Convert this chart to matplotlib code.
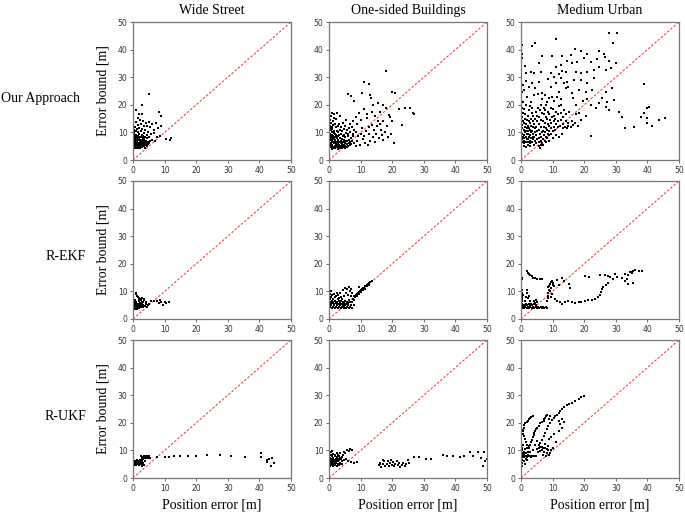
import numpy as np
import matplotlib
matplotlib.use("Agg")
import matplotlib.pyplot as plt

col_titles = ["Wide Street", "One-sided Buildings", "Medium Urban"]
row_titles = ["Our Approach", "R-EKF", "R-UKF"]
x_label = "Position error [m]"
y_label = "Error bound [m]"
ticks = [0, 10, 20, 30, 40, 50]

# (position error, error bound) pairs
wide_ours = [(5.2,24),(2.7,20.1),(1.0,18),(2.0,16.8),(3.0,16.5),(8.3,17.3),(8.8,15.8),(1.5,15.2),(2.2,14.5),(3.2,14.0),(4.0,13.5),(5.0,13.8),(6.0,13.0),(7.2,13.4),(9.0,12.2),(8.0,11.5),(6.5,11.0),(5.5,11.8),(4.5,12.2),(3.5,12.5),(2.5,13.0),(1.5,12.8),(0.5,12.0),(0.8,13.8),(4.8,10.2),(5.8,9.5),(6.8,9.8),(7.5,8.2),(8.5,8.8),(10.5,7.6),(11.8,7.3),(12.0,7.8),(7.0,6.8),(6.0,7.2),(5.0,6.0),(4.5,5.2),(3.8,4.5),(3.0,5.0),
    (0.2,4.5),(0.3,5.5),(0.4,6.2),(0.2,7.0),(0.5,7.8),(0.3,8.5),(0.6,9.2),(0.4,10.0),(0.2,11.0),(0.7,5.0),(0.8,6.0),(0.9,6.8),(1.0,7.5),(0.8,8.2),(1.1,9.0),(1.0,4.2),(1.2,5.2),(1.3,5.8),(1.4,6.5),(1.5,7.2),(1.3,8.0),(1.6,8.8),(1.5,10.2),(1.8,4.8),(1.9,5.5),(2.0,6.2),(2.1,7.0),(1.9,7.8),(2.2,8.5),(2.0,9.5),(2.3,4.2),(2.5,5.0),(2.4,5.8),(2.6,6.6),(2.7,7.4),(2.5,8.2),(2.8,9.0),(2.6,10.5),(3.0,4.6),(3.1,5.4),(3.2,6.2),(3.0,7.0),(3.3,7.8),(3.1,8.6),(3.4,9.8),(3.6,5.0),(3.7,5.8),(3.8,6.6),(3.5,7.5),(3.9,8.4),(4.1,5.4),(4.2,6.2),(4.0,7.0),(4.3,9.0),(4.6,5.8),(4.8,6.6),(4.5,7.8),(5.2,6.4),(5.0,8.5),(5.5,7.0),(0.1,6.6),(0.6,7.3),(1.2,6.9),(1.7,6.3),(2.3,6.0),(0.5,5.8),(1.1,5.5),(0.9,7.1),(1.6,7.6),(2.2,7.3),(0.3,9.6),(0.9,10.5),(1.4,11.2),(2.0,11.5),(2.9,11.2),(3.8,10.8),(0.7,4.6),(1.5,4.4),(2.8,5.8),(3.4,6.9)]

onesided_ours = [(0.1,4.2),(0.2,5.0),(0.3,5.8),(0.1,6.5),(0.4,7.2),(0.2,8.0),(0.5,8.8),(0.3,9.6),(0.1,10.5),(0.4,11.5),(0.2,12.5),(0.5,13.5),(0.3,14.5),(0.6,15.8),(0.7,4.6),(0.8,5.4),(0.6,6.2),(0.9,7.0),(0.7,7.8),(0.8,9.2),(0.9,10.2),(0.6,11.0),(0.8,12.0),(0.9,17.0),
    (1.0,4.0),(1.2,4.8),(1.1,5.6),(1.3,6.4),(1.0,7.2),(1.4,8.0),(1.2,8.8),(1.5,9.8),(1.1,11.2),(1.4,12.8),(1.3,14.0),(1.5,16.5),(1.6,4.4),(1.8,5.2),(1.7,6.0),(1.9,6.8),(1.6,7.6),(1.8,8.4),(1.9,9.4),(1.7,10.6),(1.8,13.2),(1.6,15.2),
    (2.0,4.2),(2.2,5.0),(2.1,5.8),(2.3,6.6),(2.0,7.4),(2.4,8.2),(2.2,9.0),(2.5,10.4),(2.1,11.8),(2.3,14.8),(2.6,4.6),(2.8,5.4),(2.7,6.2),(2.9,7.0),(2.6,7.8),(2.8,8.8),(2.9,10.0),(2.7,12.2),(2.5,17.2),
    (3.0,4.0),(3.2,4.8),(3.1,5.6),(3.3,6.4),(3.0,7.2),(3.4,8.0),(3.2,9.2),(3.5,11.0),(3.3,13.0),(3.6,4.4),(3.8,5.2),(3.7,6.0),(3.9,6.8),(3.6,7.8),(3.8,9.6),(3.9,12.0),(3.5,16.0),
    (4.0,4.2),(4.2,5.0),(4.1,5.8),(4.3,6.6),(4.0,7.6),(4.4,8.6),(4.2,10.4),(4.5,13.5),(4.6,4.6),(4.8,5.4),(4.7,6.4),(4.9,7.4),(4.6,9.0),(4.8,11.2),
    (5.0,4.4),(5.2,5.2),(5.1,6.2),(5.3,7.0),(5.0,8.2),(5.4,9.8),(5.2,12.4),(5.6,4.8),(5.8,5.8),(5.7,6.8),(5.9,8.6),(5.6,10.8),(5.5,14.6),
    (6.0,5.0),(6.2,6.0),(6.4,7.4),(6.1,9.4),(6.3,11.6),(6.6,5.4),(6.8,6.4),(6.9,8.0),(6.7,10.2),(6.5,13.2),(7.0,5.8),(7.3,7.0),(7.5,8.8),(7.2,12.0),(7.8,6.2),(7.6,9.6),(7.9,11.0),(7.7,14.2),
    (18.0,32.2),(11.0,28.3),(12.5,27.5),(13.0,23.6),(13.2,22.6),(6.0,24.0),(7.0,23.2),(8.0,21.4),(10.5,24.2),(20.0,24.6),(21.0,24.2),(14.0,20.0),(15.5,20.6),(17.0,20.0),(18.0,19.0),(19.0,16.2),(19.2,15.4),(22.0,18.4),(24.0,18.8),(25.5,19.0),(26.5,17.0),(26.8,16.8),(23.0,12.6),(20.0,14.0),(20.5,6.0),(17.0,7.4),(15.0,9.6),(16.5,11.0),(18.5,12.2),(17.0,14.0),(12.0,15.2),(10.0,14.4),(9.0,13.2),(8.5,15.6),(9.5,17.2),(11.0,18.6),(12.0,16.8),(13.5,17.5),(14.5,15.8),(15.5,14.2),(16.0,17.5),(8.5,10.0),(9.2,8.6),(10.0,9.4),(10.8,7.6),(11.5,6.2),(12.2,5.4),(13.0,7.0),(13.8,8.2),(14.5,6.5),(15.8,7.8),(16.8,9.2),(17.8,10.0),(18.8,8.4),(19.5,9.6),(10.5,11.6),(11.8,10.6),(12.8,11.8),(13.6,12.8),(14.2,10.8),(15.2,12.2),(16.2,13.0),(9.0,6.8),(8.6,5.0),(9.8,5.6),(11.2,8.8),(12.5,9.4)]

urban_ours = [(27.8,46.1),(30.3,46.1),(29.2,42.5),(11.2,44.0),(4.4,42.3),(3.6,41.4),(0.4,41.7),(0.2,38.3),(0.4,36.8),(6.8,37.7),(9.9,37.8),(13.1,37.7),(15.7,38.0),(17.1,40.1),(18.9,39.6),(20.8,38.4),(24.7,39.5),(26.3,38.3),(26.6,37.4),(24.2,36.5),(22.1,35.6),(20.0,36.8),(17.8,35.6),(16.2,35.0),(14.7,36.0),(12.6,34.4),(11.0,33.8),(27.8,35.9),(28.4,33.2),(30.0,35.0),(27.0,32.6),(24.7,33.8),(23.1,32.6),(21.0,32.0),(18.9,31.4),(17.3,32.0),(14.1,32.0),(13.1,32.4),(1.3,34.0),(3.1,32.0),(4.1,31.6),(5.7,35.0),(6.2,32.0),(1.5,31.6),(5.7,28.4),(1.0,25.4),(2.0,23.0),(4.1,23.6),(6.8,24.2),(9.4,26.6),(11.0,27.8),(12.6,29.6),(14.7,28.4),(16.8,29.0),(19.0,29.0),(21.0,27.8),(23.1,29.6),(18.4,25.4),(20.5,24.8),(16.2,24.2),(14.1,26.0),(12.0,24.8),(9.9,23.0),(8.3,21.1),(25.7,22.3),(27.3,21.1),(28.9,26.0),(29.4,21.7),(26.8,24.8),(39.0,27.4),(31.0,17.5),(32.1,15.7),(33.0,11.5),(35.8,12.1),(37.9,15.7),(39.0,16.9),(39.8,18.7),(40.5,19.1),(40.0,15.1),(40.0,13.3),(41.6,12.3),(43.7,14.5),(45.5,15.1),(22.3,8.7),(27.8,18.1),(26.8,19.3),(23.6,18.7),(22.1,19.9),(24.7,20.5),
    (0.1,5.5),(0.3,6.5),(0.2,7.5),(0.5,8.5),(0.3,9.5),(0.1,10.5),(0.4,11.5),(0.2,12.8),(0.5,14.0),(0.3,15.5),(0.6,17.0),(0.2,19.0),(0.5,21.0),(0.3,24.5),(0.8,5.0),(1.0,6.0),(0.9,7.0),(1.1,8.0),(0.8,9.0),(1.2,10.0),(1.0,11.0),(1.3,12.0),(0.9,13.5),(1.2,15.0),(1.4,16.5),(1.1,18.5),(1.5,20.0),(1.6,6.5),(1.8,7.5),(1.7,8.5),(1.9,9.5),(1.6,10.5),(1.8,11.5),(1.7,13.0),(1.9,14.5),(1.5,4.8),
    (2.1,5.5),(2.3,6.5),(2.2,7.5),(2.5,8.5),(2.3,9.5),(2.1,10.5),(2.4,11.5),(2.2,12.5),(2.6,14.0),(2.3,16.0),(2.5,18.0),(2.7,19.5),(2.8,5.0),(3.0,6.0),(2.9,7.0),(3.1,8.0),(2.8,9.0),(3.2,10.0),(3.0,11.0),(3.3,12.5),(2.9,13.5),(3.2,15.0),(3.4,17.0),(3.1,21.0),(3.6,6.5),(3.8,7.5),(3.7,8.5),(3.9,9.5),(3.6,10.5),(3.8,12.0),(3.7,14.0),(3.9,16.0),(3.5,19.0),
    (4.1,5.5),(4.3,7.0),(4.2,8.5),(4.5,10.0),(4.3,11.5),(4.1,13.0),(4.4,15.0),(4.6,17.5),(4.8,6.0),(5.0,7.5),(4.9,9.0),(5.1,10.5),(4.8,12.0),(5.2,14.0),(5.0,16.0),(5.3,19.0),(5.6,5.0),(5.8,6.5),(5.7,8.0),(5.9,9.5),(5.6,11.0),(5.8,13.0),(5.7,15.5),(5.9,18.0),(6.2,5.5),(6.4,7.0),(6.3,8.5),(6.5,10.0),(6.2,12.0),(6.4,14.5),(6.6,17.0),(6.3,20.0),(6.8,6.0),
    (7.0,7.5),(7.2,9.0),(7.1,10.5),(7.3,12.0),(7.0,14.0),(7.2,16.5),(7.4,19.0),(7.6,7.0),(7.8,8.5),(7.7,10.0),(7.9,11.5),(7.6,13.5),(7.8,15.5),(7.7,18.0),(8.2,8.0),(8.4,9.5),(8.3,11.0),(8.5,13.0),(8.2,15.0),(8.6,17.5),(8.8,9.0),(9.0,10.5),(8.9,12.5),(9.1,14.5),(8.8,16.5),(9.4,9.5),(9.6,11.5),(9.5,13.5),(9.7,15.5),(9.4,19.0),
    (10.2,10.5),(10.4,12.0),(10.3,14.0),(10.5,16.0),(10.2,18.5),(10.8,11.0),(11.0,13.0),(10.9,15.0),(11.2,17.5),(11.6,12.0),(11.8,14.0),(11.7,16.5),(11.9,19.5),(12.4,12.5),(12.6,14.5),(12.5,17.0),(12.7,20.0),(13.2,13.0),(13.4,11.5),(13.3,15.5),(13.6,18.0),(14.0,12.0),(14.2,14.0),(14.1,16.5),(14.5,11.5),(14.8,13.5),(15.0,12.5),(15.2,17.5),(15.8,11.8),(16.2,14.0),(16.5,12.8),(17.0,13.5),(12.0,8.5),(11.0,9.0),(10.0,8.0),(9.0,7.0),(8.0,6.5),(7.0,5.5),(6.0,4.5),(13.0,9.5),(12.8,22.0),(11.5,23.0),(10.5,21.5),(9.0,22.5),(8.0,20.0),(7.5,23.5),(6.5,22.0),(5.5,24.0),(4.5,26.0),(3.5,28.0),(2.5,26.5),(1.5,28.5),(0.5,27.0),(8.5,29.5),(9.5,31.5),(10.5,30.0),(12.0,31.0),(13.5,28.0),(15.0,26.5),(16.5,22.5),(17.5,20.0),(18.5,17.0),(19.5,21.5),(21.0,22.0),(22.5,25.5),(19.0,14.5),(20.5,16.0),(17.5,16.5),(18.0,12.5)]

wide_ekf = [(0.2,3.6),(0.4,4.2),(0.3,4.8),(0.5,5.4),(0.2,6.0),(0.6,3.8),(0.8,4.4),(0.7,5.0),(0.9,5.6),(1.0,3.6),(1.2,4.2),(1.1,4.8),(1.3,5.4),(1.0,6.2),(1.4,3.8),(1.6,4.4),(1.5,5.0),(1.7,5.6),(1.8,6.4),(2.0,4.0),(2.2,4.6),(2.1,5.2),(2.3,5.8),(2.0,6.8),(2.4,7.4),(2.6,4.2),(2.8,4.8),(2.7,5.4),(2.9,6.2),(2.6,7.0),(3.0,7.6),(3.2,4.4),(3.1,5.2),(3.3,6.0),(3.4,6.8),(3.6,7.2),(0.8,9.6),(1.0,9.0),(1.2,8.4),(1.5,8.0),(1.8,7.6),(0.5,7.0),(3.8,4.6),(4.0,5.4),(4.2,6.2),(4.5,4.2),(4.8,5.0),(5.2,5.6),(5.8,6.4),(6.5,6.6),(7.5,6.4),(8.2,5.8),(9.0,6.2),(9.4,5.0),(10.0,6.0),(10.5,5.8),(11.5,6.3),(8.5,6.8)]

onesided_ekf = [(0.1,4.0),(0.4,4.5),(0.7,5.0),(1.0,4.0),(1.3,4.5),(1.6,5.0),(1.9,4.0),(2.2,4.5),(2.5,5.0),(2.8,4.0),(3.1,4.5),(3.4,5.0),(3.7,4.0),(4.0,4.5),(4.3,5.0),(4.6,4.0),(4.9,4.5),(5.2,5.0),(5.5,4.0),(5.8,4.5),(6.1,5.0),(6.4,4.0),(6.7,4.5),(7.0,5.0),(7.3,4.0),(0.2,5.5),(0.5,6.0),(0.8,6.5),(1.1,5.8),(1.4,6.2),(1.7,5.6),(2.0,6.6),(2.3,5.8),(2.6,6.2),(2.9,5.6),(3.2,6.4),(3.5,5.8),(3.8,6.6),(4.1,5.6),(4.4,6.2),(4.7,5.8),(5.0,6.6),(5.3,5.6),(5.6,6.2),(5.9,5.8),(6.2,7.0),(6.5,6.0),(0.3,7.2),(0.6,8.0),(0.4,9.0),(0.7,10.0),(1.0,8.6),(1.2,7.4),(1.5,9.2),(1.8,7.8),(2.1,8.4),(2.4,9.6),(2.7,7.2),(3.0,8.8),(3.3,7.6),(3.6,9.4),(3.9,8.0),(4.2,7.2),(4.5,10.4),(4.8,8.4),(5.1,11.2),(5.4,9.6),(5.7,10.8),(6.0,8.8),(6.3,11.6),(6.6,10.0),(6.9,8.2),(7.2,9.6),(7.5,7.4),(7.8,8.2),(7.4,6.0),(7.8,5.2),(8.0,6.8),(8.3,7.8),(8.6,8.6),(8.9,9.0),(9.2,9.6),(9.5,9.8),(9.8,10.2),(10.1,10.6),(10.4,10.8),(10.7,11.2),(11.0,11.4),(11.3,11.8),(11.6,12.0),(11.9,12.4),(12.2,12.6),(12.5,13.0),(12.8,13.2),(13.1,13.4),(13.5,13.8),(9.0,8.4),(9.6,9.2),(10.2,9.8),(10.8,10.4),(11.4,11.0),(12.0,11.8),(12.6,12.4),(7.0,11.0),(9.5,11.5)]

urban_ekf = [(0.2,4.0),(0.6,4.3),(1.0,4.0),(1.4,4.4),(1.8,4.1),(2.2,4.5),(2.6,4.0),(3.0,4.4),(3.4,4.1),(3.8,4.5),(4.2,4.0),(4.6,4.3),(5.0,4.1),(5.4,4.4),(5.8,4.0),(6.2,4.3),(6.6,4.1),(7.0,4.4),(7.4,4.0),(7.8,4.2),(8.2,4.1),(0.4,4.8),(0.8,5.2),(1.2,4.9),(1.6,5.4),(2.0,5.0),(2.4,5.5),(2.8,5.1),(3.2,5.6),(3.6,5.0),(4.0,5.4),(4.4,5.8),(4.8,5.2),(5.2,6.0),(3.0,6.4),(4.0,6.6),(4.6,7.0),
    (0.3,5.6),(0.3,6.4),(0.4,7.2),(0.3,8.0),(0.5,8.8),(0.4,9.6),(0.3,10.4),(0.2,14.5),(0.3,15.0),(1.5,8.0),(1.8,9.5),(2.0,10.5),(2.2,7.5),(2.5,8.5),(1.2,6.5),
    (1.8,17.3),(2.1,16.8),(2.5,16.3),(2.9,15.8),(3.4,15.4),(3.9,15.0),(4.5,14.7),(5.2,14.5),(6.0,14.4),(6.8,14.5),
    (8.3,6.5),(8.5,7.5),(8.4,8.5),(8.6,9.5),(8.8,10.5),(8.7,11.5),(9.0,12.0),(9.2,12.8),(9.4,13.4),(9.8,13.8),(9.1,10.2),(9.5,11.2),(10.0,12.5),(10.2,13.2),(9.8,9.2),(10.5,11.8),(9.4,7.8),(10.8,7.2),(11.5,6.5),(12.2,6.0),(13.0,5.5),(14.0,6.0),(15.0,6.5),(12.9,15.0),(13.5,13.9),(15.1,12.7),(15.6,11.4),(11.5,14.0),(12.0,12.5),
    (16.1,6.0),(17.0,5.8),(18.2,6.0),(19.0,6.2),(20.3,6.6),(21.3,6.8),(22.4,7.0),(23.5,7.2),(24.5,7.8),(25.0,8.8),(25.3,9.8),(25.6,10.8),(26.0,11.6),(26.8,12.2),(27.5,13.0),(20.3,15.7),(21.4,15.3),(25.0,16.0),(26.6,15.9),(27.5,15.6),(28.2,15.3),(29.8,16.3),(29.2,14.5),(30.5,15.2),(33.0,16.3),(33.8,16.0),(34.5,16.9),(35.2,17.2),(35.6,17.5),(35.0,16.6),(36.0,17.8),(37.2,17.5),(38.2,17.5),(33.0,13.9),(34.0,12.7),(33.5,14.5),(32.0,14.8),(35.5,13.2)]

wide_ukf = [(0.2,4.8),(0.4,5.4),(0.3,6.0),(0.6,5.0),(0.8,5.6),(0.7,6.2),(1.0,4.6),(1.2,5.2),(1.1,5.8),(1.4,6.4),(1.5,5.0),(1.7,5.6),(1.6,6.2),(1.9,4.8),(2.0,5.4),(2.2,6.0),(2.1,6.6),(2.4,5.2),(2.6,5.8),(2.5,6.4),(2.8,4.4),(2.9,5.0),(3.0,6.0),(3.2,6.8),(2.7,7.2),(3.1,7.6),(2.4,7.8),(3.4,7.8),(3.6,7.2),(3.8,7.8),(4.0,7.4),(4.2,8.0),(4.4,7.6),(4.6,7.8),(4.8,7.2),(5.0,7.8),(5.3,7.4),(3.3,5.4),(3.5,4.6),(3.7,6.2),(0.5,5.8),(1.3,6.0),
    (7.5,7.6),(10.0,7.7),(11.5,7.6),(13.0,7.8),(15.0,7.9),(17.5,8.0),(20.0,8.0),(23.3,8.3),(27.5,8.3),(31.0,8.0),(35.5,7.5),(40.5,9.0),(40.6,7.6),(42.3,6.5),(42.9,7.0),(44.0,7.4),(43.6,4.5),(44.6,5.6),(42.4,5.8)]

onesided_ukf = [(0.2,4.2),(0.4,5.0),(0.3,5.8),(0.5,6.6),(0.2,7.4),(0.6,8.2),(0.8,4.6),(1.0,5.4),(0.9,6.2),(1.1,7.0),(0.8,7.8),(1.2,8.8),(1.4,4.2),(1.6,5.0),(1.5,5.8),(1.7,6.6),(1.4,7.4),(1.8,8.2),(2.0,4.6),(2.2,5.4),(2.1,6.2),(2.3,7.0),(2.0,7.8),(2.4,9.0),(2.6,4.4),(2.8,5.2),(2.7,6.0),(2.9,6.8),(2.6,7.6),(3.0,8.4),(3.2,4.8),(3.4,5.6),(3.3,6.4),(3.5,7.2),(3.2,8.0),(3.6,9.2),(3.8,5.2),(4.0,6.0),(3.9,6.8),(4.1,7.6),(4.4,8.4),(4.6,9.6),(4.2,5.0),(4.8,6.4),(5.2,9.2),(5.6,10.2),(6.2,9.8),(6.8,10.6),(7.2,10.2),(5.5,7.0),(6.0,6.0),(7.0,5.8),(8.0,5.6),(8.8,5.8),(0.5,9.4),(1.0,9.8),
    (15.8,4.6),(16.2,5.4),(16.6,4.0),(17.0,5.0),(17.4,6.0),(17.8,4.4),(18.2,5.2),(18.6,6.2),(19.0,4.2),(19.4,5.6),(19.8,4.8),(20.2,5.8),(20.6,4.4),(21.0,5.2),(21.4,6.0),(21.8,4.6),(22.2,5.4),(22.6,4.0),(23.0,4.8),(23.4,5.6),(24.0,4.2),(24.4,5.0),(25.0,6.6),(25.2,5.4),(17.2,6.4),(19.6,6.6),(16.0,5.0),
    (27.0,7.5),(28.6,7.5),(30.6,7.0),(32.2,7.0),(36.0,8.3),(37.2,8.0),(39.2,7.8),(41.3,7.5),(42.8,7.8),(44.6,9.6),(45.5,8.0),(47.2,9.5),(48.2,7.2),(49.1,9.4),(48.8,4.5),(49.5,6.2),(49.9,7.0)]

urban_ukf = [(19.8,29.8),(19.0,29.2),(18.2,28.5),(17.2,28.0),(16.1,27.3),(15.3,26.8),(14.5,26.3),(13.7,25.6),(12.9,24.9),(12.4,24.3),(11.9,23.7),(11.4,23.0),(10.8,22.4),(10.3,21.6),(9.8,20.9),(9.3,20.0),(8.7,18.8),(8.2,17.6),(7.7,16.3),(7.2,15.1),(6.6,13.9),(6.1,12.7),(5.8,11.8),
    (3.7,22.4),(3.3,22.0),(2.9,21.6),(2.5,21.2),(2.2,20.8),(1.8,20.4),(1.4,20.0),(1.1,19.2),(0.8,18.2),(0.6,17.4),(0.5,17.0),(0.7,16.0),(0.8,15.1),(1.2,14.0),(1.5,13.0),(1.8,12.0),
    (8.2,23.0),(7.9,22.4),(7.7,21.8),(7.4,21.2),(7.2,20.6),(6.6,20.2),(6.1,20.0),(5.6,19.0),(5.1,18.2),(4.8,17.6),(4.5,17.0),(4.2,16.3),(4.0,15.7),(3.8,14.8),(3.5,13.9),(3.2,13.0),(2.9,12.1),(2.6,10.9),
    (0.2,7.5),(0.5,8.0),(0.8,7.6),(1.1,8.2),(1.4,7.8),(1.7,8.0),(2.0,7.6),(2.3,8.2),(2.6,7.8),(2.9,8.0),(3.2,7.7),(3.5,8.1),(3.8,7.8),(4.1,8.0),(4.4,7.9),(4.8,8.0),
    (0.2,4.5),(0.4,5.5),(0.3,6.5),(0.6,9.0),(0.4,10.0),(0.2,11.0),(0.7,12.0),(0.9,6.0),(1.0,9.5),(1.2,10.5),(1.3,5.0),(1.5,6.8),(0.5,8.6),(0.8,9.2),(1.6,9.0),(2.0,6.5),(2.2,9.5),(1.8,10.8),
    (5.0,10.5),(5.6,10.9),(6.1,11.2),(6.6,11.1),(7.1,11.0),(7.7,10.9),(8.2,10.6),(8.7,10.2),(9.3,9.0),(8.2,9.0),(7.4,9.6),(6.8,10.0),(9.0,8.2),(9.6,10.2),(10.0,10.8),(8.5,11.5),(6.0,9.8),(5.5,9.5),(7.0,8.5),(8.0,8.0),
    (12.4,19.4),(12.9,18.2),(11.9,17.0),(13.5,20.2),(10.5,16.0),(9.5,15.0),(8.8,14.0),(7.5,12.5),(4.5,12.0),(5.2,13.5),(3.8,10.0),(3.0,9.5),(2.5,11.5),(9.2,22.5),(8.8,21.5),(11.0,13.0),(13.0,21.5),(12.0,20.5)]

panels = [[wide_ours, onesided_ours, urban_ours],
          [wide_ekf, onesided_ekf, urban_ekf],
          [wide_ukf, onesided_ukf, urban_ukf]]

W, H = 685, 518
fig = plt.figure(figsize=(W / 100, H / 100), dpi=100)
serif = ["Liberation Serif", "DejaVu Serif"]

col_left = [133, 329, 521]
row_top = [22, 181, 340]
aw, ah = 158, 138

for r in range(3):
    for c in range(3):
        left = col_left[c] / W
        bottom = (H - row_top[r] - ah) / H
        ax = fig.add_axes([left, bottom, aw / W, ah / H])
        pts = np.array(panels[r][c])
        ax.plot([0, 50], [0, 50], color="#e8474a", lw=0.8, ls=(0, (2.2, 1.6)), zorder=1)
        ax.scatter(pts[:, 0], pts[:, 1], s=1.2, c="black", marker="s", linewidths=0, zorder=2)
        ax.set_xlim(0, 50)
        ax.set_ylim(0, 50)
        ax.set_xticks(ticks)
        ax.set_yticks(ticks)
        ax.tick_params(labelsize=5.5, length=2.5, width=0.6, color="#555555",
                       labelcolor="#333333", pad=1.5)
        for sp in ax.spines.values():
            sp.set_color("#777777")
            sp.set_linewidth(0.9)
        if c == 0:
            ax.set_ylabel(y_label, fontsize=10, family=serif, labelpad=6)
        if r == 2:
            ax.set_xlabel(x_label, fontsize=10, family=serif, labelpad=4)
        if r == 0:
            ax.set_title(col_titles[c], fontsize=10, family=serif, pad=6)

row_x = [1, 46, 45]
for r in range(3):
    yc = row_top[r] + ah / 2 + 7
    fig.text(row_x[r] / W, 1 - yc / H, row_titles[r], fontsize=10, family=serif,
             ha="left", va="center")

fig.savefig("out.png", dpi=100)
